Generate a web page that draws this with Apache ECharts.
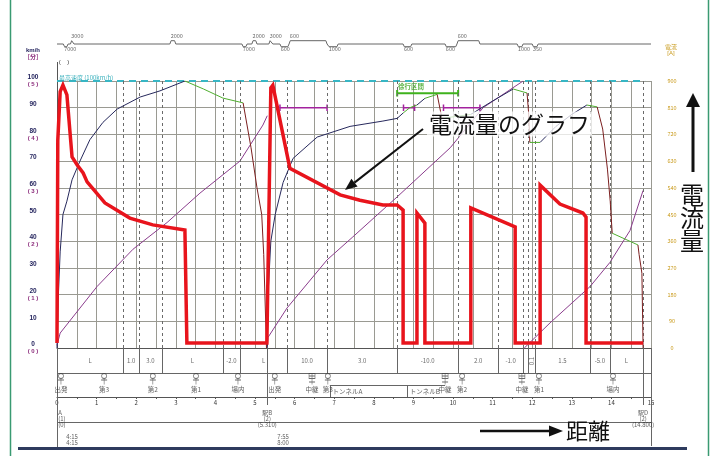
<!DOCTYPE html>
<html><head><meta charset="utf-8">
<script src="https://cdn.jsdelivr.net/npm/echarts@6/dist/echarts.min.js"></script>
<style>html,body{margin:0;padding:0;background:#fff}#c{width:712px;height:456px}</style>
</head><body><div id="c"></div>
<script>
// ---------------- DATA ----------------
// speed curve (km, km/h): power / coast / brake runs
const powerRuns = [
  [[0,0],[0.03,18],[0.08,36],[0.15,50],[0.25,55],[0.38,63],[0.58,70],[0.83,78],[1.16,84.5],[1.52,89.5],[2.10,94],[2.60,96.3],[3.23,100]],
  [[5.31,0],[5.33,20],[5.40,40],[5.51,50],[5.71,62],[5.96,71],[6.57,79],[7.40,83],[8.23,85],[8.59,86],[8.74,88]],
  [[9.09,91],[9.29,93.5]],
  [[10.45,87.5],[11.0,92.5],[11.52,97]],
  [[12.20,77],[12.6,83],[13.0,87.5],[13.38,91]]
];
const coastRuns = [
  [[3.23,100],[3.70,97],[4.19,93.6],[4.70,91.8]],
  [[8.74,88],[8.91,90],[9.09,91]],
  [[9.29,93.5],[9.60,95]],
  [[9.72,86],[10.45,87.5]],
  [[11.52,97],[11.87,95.5]],
  [[11.94,77],[12.20,77]],
  [[13.38,91],[13.64,90.3]],
  [[14.02,43],[14.67,38.6]]
];
const brakeRuns = [
  [[4.70,91.8],[4.90,75],[5.05,60],[5.17,50],[5.22,35],[5.25,20],[5.29,0]],
  [[9.60,95],[9.72,86]],
  [[11.87,95.5],[11.91,88],[11.94,77]],
  [[13.64,90.3],[13.78,82],[13.90,67],[13.97,55],[14.02,43]],
  [[14.67,38.6],[14.70,35],[14.77,28],[14.79,10],[14.80,0]]
];
// elapsed time curve (km, value on 0-100 = 0-5 min)
const timeRuns = [
  [[0,1],[0.08,5.6],[1.01,23],[1.92,37],[2.78,47],[3.61,58],[4.62,70],[5.20,83.5],[5.31,87]],
  [[5.31,0.5],[5.33,4],[5.81,15],[6.82,33],[7.47,41.6],[8.59,56.6],[9.93,75],[10.76,90],[11.77,100]],
  [[11.80,0],[11.87,1],[12.45,9.4],[13.46,23],[13.96,32],[14.47,44],[14.80,59]]
];
// motor current (km, A)
const currentA = [[0,17],[0.02,700],[0.08,864],[0.15,886],[0.25,853],[0.38,644],[0.51,617],[0.66,590],[0.76,560],[1.21,489],[1.84,438],[2.42,415],[3.23,398],[3.28,398],[3.28,17],
  [5.30,17],[5.40,877],[5.45,886],[5.88,606],[7.15,516],[7.65,498],[8.23,482],[8.59,482],[8.74,465],[8.74,17],
  [9.09,17],[9.09,455],[9.29,421],[9.29,17],[10.45,17],[10.45,472],[11.57,408],[11.57,17],
  [12.20,17],[12.20,549],[12.70,485],[13.28,455],[13.36,441],[13.36,17],[14.80,17]];
// speed limit and restrictions
const maxSpeed = 100;
const maxSpeedEnd = 14.85;
const limitStart = [5.63, 8.75, 9.76];
const limitEnd   = [6.82, 9.03, 10.68];
const limitSpeed = [90, 90, 90];
const slowStart = 8.59, slowEnd = 10.13, slowSpeed = 95.4;
// gradient row
const gradBreaks = [0,1.67,2.07,2.65,4.19,4.62,5.81,6.82,8.59,10.13,11.14,11.77,11.89,12.07,13.46,13.96,14.80];
const gradLabels = ['L','1.0','3.0','L','-2.0','L','10.0','3.0','-10.0','2.0','-1.0','','0.1','1.5','-5.0','L'];
// signals
const sigKm   = [0.10,1.19,2.42,3.51,4.57,5.50,6.44,6.84,9.80,10.23,11.74,12.17,14.04];
const sigName = ['出発','第3','第2','第1','場内','出発','中継','第3','中継','第2','中継','第1','場内'];
// tunnels
const tunnelStart = [6.89, 8.84];
const tunnelEnd   = [8.84, 9.80];
const tunnelName  = ['トンネルA','トンネルB'];
// stations
const stationKm   = [0, 5.31, 14.80];
const stationName = ['A','駅B','駅D'];
const stationNo   = ['(1)','(2)','(2)'];
const stationDist = ['(0)','(5.310)','(14.800)'];
const timeKm  = [0.38, 5.71];
const timeArr = ['4:15','7:55'];
const timeDep = ['4:15','8:00'];
// curve profile
const curveStart = [0.16,0.34,2.85,4.67,4.92,5.35,5.63,5.86,6.84,8.74,9.80,10.10,11.62,12.00];
const curveEnd   = [0.28,0.43,3.00,4.80,5.05,5.45,5.86,6.82,7.10,8.96,10.10,10.68,11.77,12.15];
const curveSide  = [-1,1,1,-1,1,1,-1,1,-1,-1,-1,1,-1,-1];
const curveRadius= ['7000','3000','2000','7000','2000','3000','600','600','1000','600','600','600','1000','350'];
// axis tick labels
const timeTickLabels = ['( 0 )','( 1 )','( 2 )','( 3 )','( 4 )','( 5 )'];

// ---------------- BUILD ----------------
const FONT = '"Noto Sans CJK JP", "Liberation Sans", sans-serif';
const C = {navy:'#27295c', green:'#4fae2e', brown:'#7b1f1f', purple:'#8a3c8c', red:'#e8141c', cyan:'#38b6c4', mag:'#a3229e', grid:'#9a9a92'};

function runSeries(runs, color, width, yIdx, z){
  return runs.map(r=>({type:'line', xAxisIndex:0, yAxisIndex:yIdx, data:r, symbol:'none', showSymbol:false,
    lineStyle:{color, width}, itemStyle:{color}, z, silent:true, animation:false}));
}
function barPath(s,e,v,h){ return [[s,v+h],[s,v-h],[s,v],[e,v],[e,v+h],[e,v-h]]; }
function textSeries(items, base, xi, yi, z){
  return {type:'scatter', xAxisIndex:xi, yAxisIndex:yi, symbolSize:1, itemStyle:{color:'rgba(0,0,0,0)'}, silent:true, animation:false, z:z||6,
    data: items.map(it=>({value:[it[0],it[1]], name:it[2], label:it[3]||{}})),
    label:Object.assign({show:true, position:'inside', formatter:'{b}', fontSize:6, color:'#333', fontFamily:FONT}, base)};
}

const series = [];
// dashed vertical lines at gradient breaks
series.push({type:'line', xAxisIndex:0, yAxisIndex:0, data:[], z:2, silent:true,
  markLine:{silent:true, symbol:'none', animation:false, label:{show:false},
    lineStyle:{color:'#6a6a6a', type:[3,3], width:1},
    data: gradBreaks.slice(1).map(k=>({xAxis:k}))}});
// max speed dashed line
series.push({type:'line', xAxisIndex:0, yAxisIndex:0, data:[[0,maxSpeed],[maxSpeedEnd,maxSpeed]], symbol:'none',
  lineStyle:{color:C.cyan, width:2, type:[7,5]}, z:3, silent:true, animation:false});
// restrictions
limitStart.forEach((s,i)=>series.push({type:'line', xAxisIndex:0, yAxisIndex:0, data:barPath(s,limitEnd[i],limitSpeed[i],1.2),
  symbol:'none', lineStyle:{color:C.mag, width:1.5}, z:3, silent:true, animation:false}));
series.push({type:'line', xAxisIndex:0, yAxisIndex:0, data:barPath(slowStart,slowEnd,slowSpeed,1.2),
  symbol:'none', lineStyle:{color:'#3fb21c', width:2}, z:3, silent:true, animation:false});
series.push(textSeries([[slowStart+0.02, slowSpeed+2.4, '徐行区間', {align:'left'}]], {fontSize:6.5, color:'#3aa31c', fontWeight:'bold'}, 0, 0, 4));
// time curve
series.push(...runSeries(timeRuns, C.purple, 1, 0, 4));
// speed curve
series.push(...runSeries(powerRuns, C.navy, 1, 0, 5));
series.push(...runSeries(coastRuns, C.green, 1, 0, 5));
series.push(...runSeries(brakeRuns, C.brown, 1, 0, 5));
// current
series.push({type:'line', xAxisIndex:0, yAxisIndex:1, data:currentA, symbol:'none',
  lineStyle:{color:C.red, width:3.5, join:'miter'}, z:8, silent:true, animation:false});

// ---- table (grid 1): y = pixel offset below plot ----
const tableLines = [];
gradBreaks.slice(1).forEach(k=>tableLines.push({coords:[[k,0],[k,25]]}));
stationKm.slice(1).forEach(k=>tableLines.push({coords:[[k,0],[k,57]]}));
tableLines.push({coords:[[0,25],[15,25]]});
tableLines.push({coords:[[0,74.5],[15,74.5]]});
tableLines.push({coords:[[0,0],[0,99]]});
tableLines.push({coords:[[15,0],[15,98]]});
tunnelStart.forEach((s,i)=>{ tableLines.push({coords:[[s,37],[s,49]]}); tableLines.push({coords:[[s,37],[tunnelEnd[i],37]]}); });
series.push({type:'lines', coordinateSystem:'cartesian2d', xAxisIndex:1, yAxisIndex:2, polyline:false, silent:true, animation:false,
  lineStyle:{color:'#666', width:1, opacity:1}, data:tableLines, z:3});
// gradient labels
series.push(textSeries(gradLabels.map((t,i)=>[(gradBreaks[i]+gradBreaks[i+1])/2, 13, t, t==='0.1'?{rotate:90}:{}]), {fontSize:6, color:'#444'}, 1, 2));
// signals
const sigPath = 'path://M0.5,2.5A2.5,2.5,0,1,1,5.5,2.5A2.5,2.5,0,1,1,0.5,2.5Z M0,6.5L6,6.5 M3,5L3,11';
const relayPath = 'path://M0,0L6,0L6,5L0,5Z M3,0L3,5 M0,2.5L6,2.5 M3,5L3,11 M0,8.5L6,8.5';
series.push({type:'scatter', xAxisIndex:1, yAxisIndex:2, silent:true, animation:false, z:5, symbolSize:[6,11],
  itemStyle:{color:'rgba(255,255,255,0)', borderColor:'#444', borderWidth:0.8},
  data: sigKm.map((k,i)=>({value:[k,31], symbol: sigName[i]==='中継'?relayPath:sigPath}))});
series.push(textSeries(sigKm.map((k,i)=>[k,41.5,sigName[i]]), {fontSize:6.5, color:'#333'}, 1, 2));
// tunnels
series.push(textSeries(tunnelStart.map((s,i)=>[s+0.07,43.5,tunnelName[i],{align:'left'}]), {fontSize:6.5, color:'#333'}, 1, 2));
// stations
const stItems = [];
stationKm.forEach((k,i)=>{
  const lab = i===0?{align:'left'}:{};
  const x = i===0?0.03:k;
  stItems.push([x,65,stationName[i],lab],[x,70.5,stationNo[i],lab],[x,77,stationDist[i],lab]);
});
timeKm.forEach((k,i)=>{ stItems.push([k,89,timeArr[i]],[k,95,timeDep[i]]); });
series.push(textSeries(stItems, {fontSize:6, color:'#333'}, 1, 2));

// ---- curve profile (grid 2) ----
const BASE=14, UP=10.7, DOWN=16.7;
const prof=[[0,BASE]];
curveStart.forEach((s,i)=>{ const lv = curveSide[i]>0?UP:DOWN; const e=curveEnd[i];
  prof.push([s,BASE],[s+0.03,lv],[e-0.03,lv],[e,BASE]); });
prof.push([15,BASE]);
series.push({type:'line', xAxisIndex:2, yAxisIndex:3, data:prof, symbol:'none', lineStyle:{color:'#666', width:1}, silent:true, animation:false});
series.push(textSeries(curveStart.map((s,i)=>[s+0.02, curveSide[i]>0?5.6:19.4, curveRadius[i], {align:'left'}]), {fontSize:5.5, color:'#444'}, 2, 3));

// ---------------- OPTION ----------------
const option = {
  animation:false,
  textStyle:{fontFamily:FONT},
  grid:[
    {left:57, top:81, width:594, height:267, outerBoundsMode:'none'},
    {left:57, top:348, width:594, height:100, outerBoundsMode:'none'},
    {left:57, top:30, width:594, height:24, outerBoundsMode:'none'},
    {left:57, top:348, width:594, height:49, outerBoundsMode:'none'}
  ],
  xAxis:[
    {gridIndex:0, type:'value', min:0, max:15, interval:0.5, axisLabel:{show:false}, axisTick:{show:false},
      axisLine:{show:true, onZero:false, lineStyle:{color:'#555', width:1}}, splitLine:{show:true, lineStyle:{color:C.grid, width:1}}},
    {gridIndex:1, type:'value', min:0, max:15, show:false},
    {gridIndex:2, type:'value', min:0, max:15, show:false},
    {gridIndex:3, type:'value', min:0, max:15, interval:0.5, position:'bottom',
      axisLine:{show:true, onZero:false, lineStyle:{color:'#555', width:1}},
      axisTick:{show:true, length:2, lineStyle:{color:'#555'}},
      axisLabel:{show:true, fontSize:6, color:'#333', margin:3, showMinLabel:true, showMaxLabel:true,
        formatter:v=>Number.isInteger(v)?String(v):''},
      splitLine:{show:false}}
  ],
  yAxis:[
    {gridIndex:0, type:'value', min:0, max:100, interval:10, position:'left',
      axisLine:{show:true, onZero:false, lineStyle:{color:'#555', width:1}}, axisTick:{show:false},
      splitLine:{show:true, lineStyle:{color:C.grid, width:1}},
      axisLabel:{margin:24, align:'center', showMinLabel:true, showMaxLabel:true,
        formatter:v=> v%20===0 ? '{a|'+v+'}\n{b|'+timeTickLabels[v/20]+'}' : '{a|'+v+'}\n{b| }',
        rich:{a:{fontSize:6.5, fontWeight:'bold', color:'#1f1f5a', lineHeight:7, fontFamily:'Liberation Sans'},
              b:{fontSize:6, fontWeight:'bold', color:'#8b2b7b', lineHeight:7, fontFamily:'Liberation Sans'}}}},
    {gridIndex:0, type:'value', min:0, max:900, interval:90, position:'right',
      axisLine:{show:false}, axisTick:{show:false}, splitLine:{show:false},
      axisLabel:{margin:21, align:'center', fontSize:5.5, color:'#c99a1a', padding:[0,0,5,0], showMinLabel:true, showMaxLabel:true}},
    {gridIndex:1, type:'value', min:0, max:100, inverse:true, show:false},
    {gridIndex:2, type:'value', min:0, max:24, inverse:true, show:false},
    {gridIndex:3, type:'value', min:0, max:1, show:false}
  ],
  series,
  graphic:[
    {type:'line', silent:true, z:1, shape:{x1:10.5,y1:0,x2:10.5,y2:456}, style:{stroke:'#3a9a72', lineWidth:1.5}},
    {type:'line', silent:true, z:1, shape:{x1:708.5,y1:0,x2:708.5,y2:456}, style:{stroke:'#3a9a72', lineWidth:1.5}},
    {type:'line', silent:true, z:1, shape:{x1:18,y1:448.5,x2:687,y2:448.5}, style:{stroke:'#2e3b5e', lineWidth:3}},
    {type:'line', silent:true, z:1, shape:{x1:57.5,y1:62,x2:57.5,y2:81}, style:{stroke:'#555', lineWidth:1}},
    {type:'text', silent:true, z:10, style:{text:'km/h', x:33, y:50, font:'bold 6px "Liberation Sans"', fill:'#1f1f5a', align:'center', verticalAlign:'middle', textAlign:'center', textVerticalAlign:'middle'}},
    {type:'text', silent:true, z:10, style:{text:'[分]', x:33, y:57, font:'bold 6px "Noto Sans CJK JP"', fill:'#8b2b7b', align:'center', verticalAlign:'middle', textAlign:'center', textVerticalAlign:'middle'}},
    {type:'text', silent:true, z:10, style:{text:'(    )', x:64, y:62, font:'6px "Liberation Sans"', fill:'#333', align:'center', verticalAlign:'middle', textAlign:'center', textVerticalAlign:'middle'}},
    {type:'text', silent:true, z:10, style:{text:'電流', x:671, y:47, font:'6px "Noto Sans CJK JP"', fill:'#c99a1a', align:'center', verticalAlign:'middle', textAlign:'center', textVerticalAlign:'middle'}},
    {type:'text', silent:true, z:10, style:{text:'[A]', x:671, y:53, font:'6px "Liberation Sans"', fill:'#c99a1a', align:'center', verticalAlign:'middle', textAlign:'center', textVerticalAlign:'middle'}},
    {type:'text', silent:true, z:10, style:{text:'最高速度 (100km/h)', x:59, y:77.5, font:'6px "Noto Sans CJK JP"', fill:'#38b0bc', align:'left', verticalAlign:'middle', textAlign:'left', textVerticalAlign:'middle'}},
    // annotation: current graph
    {type:'text', silent:true, z:50, style:{text:'電流量のグラフ', x:427, y:124, font:'23px "Noto Sans CJK JP"', fill:'#111',
      backgroundColor:'rgba(255,255,255,0.75)', padding:[1,2,1,2], align:'left', verticalAlign:'middle', textAlign:'left', textVerticalAlign:'middle'}},
    {type:'line', silent:true, z:50, shape:{x1:423,y1:129,x2:354.5,y2:182.6}, style:{stroke:'#111', lineWidth:2}},
    {type:'polygon', silent:true, z:50, shape:{points:[[345,190],[357.6,186.5],[351.4,178.7]]}, style:{fill:'#111'}},
    // right: current quantity
    {type:'text', silent:true, z:50, style:{text:'電\n流\n量', x:692, y:218, font:'24px "Noto Sans CJK JP"', lineHeight:23, fill:'#111', align:'center', verticalAlign:'middle', textAlign:'center', textVerticalAlign:'middle'}},
    {type:'line', silent:true, z:50, shape:{x1:693,y1:105,x2:693,y2:172}, style:{stroke:'#111', lineWidth:3}},
    {type:'polygon', silent:true, z:50, shape:{points:[[693,93],[686,107],[700,107]]}, style:{fill:'#111'}},
    // bottom: distance
    {type:'text', silent:true, z:50, style:{text:'距離', x:588, y:431, font:'22px "Noto Sans CJK JP"', fill:'#111', align:'center', verticalAlign:'middle', textAlign:'center', textVerticalAlign:'middle'}},
    {type:'line', silent:true, z:50, shape:{x1:480,y1:431,x2:551,y2:431}, style:{stroke:'#111', lineWidth:2.5}},
    {type:'polygon', silent:true, z:50, shape:{points:[[563,431],[549,425.5],[549,436.5]]}, style:{fill:'#111'}}
  ]
};
const chart = echarts.init(document.getElementById('c'), null, {renderer:'canvas', width:712, height:456});
chart.setOption(option);
</script></body></html>
